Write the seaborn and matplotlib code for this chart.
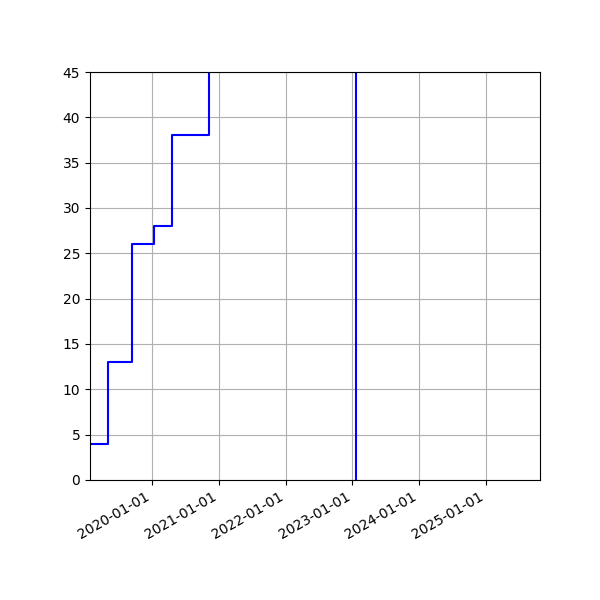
import pandas as pd
import matplotlib

matplotlib.use("Agg")
import matplotlib.pyplot as plt
import matplotlib.dates as mdates
import seaborn as sns

# step data (values after each change date)
dates = [
    "2019-01-27",
    "2019-05-04",
    "2019-09-14",
    "2020-01-10",
    "2020-04-19",
    "2020-11-09",
    "2023-01-19",
]
values = [4, 13, 26, 28, 38, 60, -5]

x_limits = ["2019-01-27", "2025-10-22"]
y_limits = [0, 45]

df = pd.DataFrame({"date": pd.to_datetime(dates), "value": values})

fig, ax = plt.subplots(figsize=(6, 6), dpi=100)

sns.lineplot(
    data=df,
    x="date",
    y="value",
    ax=ax,
    color="blue",
    drawstyle="steps-post",
    linewidth=1.5,
)

ax.set_xlim(pd.to_datetime(x_limits[0]), pd.to_datetime(x_limits[1]))
ax.set_ylim(*y_limits)
ax.set_yticks(range(0, 46, 5))
ax.xaxis.set_major_locator(mdates.YearLocator())
ax.xaxis.set_major_formatter(mdates.DateFormatter("%Y-%m-%d"))
ax.set_xlabel("")
ax.set_ylabel("")
ax.grid(True)

fig.autofmt_xdate()
fig.subplots_adjust(left=0.15, right=0.9, top=0.88, bottom=0.2)

plt.savefig("out.png", dpi=100)
plt.close()
